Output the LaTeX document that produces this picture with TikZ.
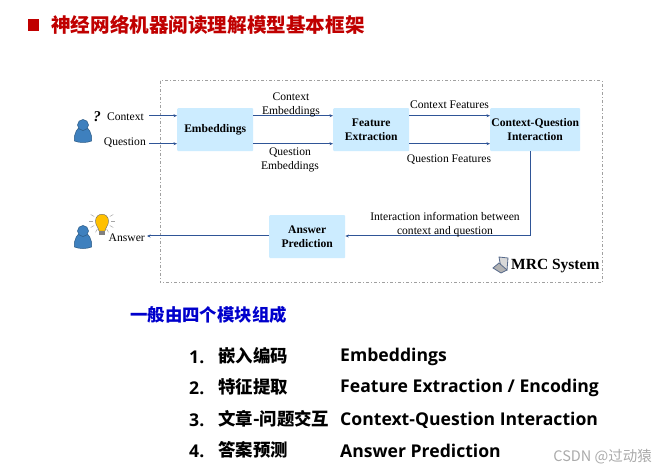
\documentclass[tikz,border=0pt]{standalone}
\usepackage{fontspec}
\setmainfont{Liberation Serif}
\newfontfamily\cjkfont{Noto Sans CJK SC}
\newfontfamily\listfont{Open Sans}
\usetikzlibrary{positioning,arrows.meta,calc}
\definecolor{boxblue}{HTML}{CCECFF}
\definecolor{flowblue}{HTML}{2F5597}
\definecolor{titlered}{HTML}{C00000}
\definecolor{headblue}{HTML}{0000CC}
\definecolor{personblue}{HTML}{3E80BE}
\definecolor{bulbyellow}{HTML}{FFC000}
\definecolor{framegray}{HTML}{A0A0A0}
\definecolor{markgray}{HTML}{ABABAB}

\begin{document}
\begin{tikzpicture}[
    x=1pt, y=-1pt,
    >={Stealth[length=3.5pt,width=3pt]},
    every node/.style={font=\fontsize{11.6}{14}\selectfont, inner sep=0pt, align=center},
    modulebox/.style={fill=boxblue, rounded corners=1pt, font=\fontsize{11.6}{14}\selectfont\bfseries, anchor=north west},
    flowarrow/.style={->, line width=1pt, flowblue},
    numlabel/.style={font=\fontsize{17.6}{20}\selectfont\listfont\bfseries, anchor=west},
    cnlabel/.style={font=\fontsize{17.4}{20}\selectfont\cjkfont\bfseries, anchor=west},
    enlabel/.style={font=\fontsize{17.6}{20}\selectfont\listfont\bfseries, anchor=west},
    person/.pic={
        \draw[personblue!70!black, fill=personblue, line width=0.5pt]
            (-8.5,16) .. controls (-9.5,8) and (-5,2.5) .. (-3,2.5) -- (3,2.5)
            .. controls (5,2.5) and (9.5,8) .. (8.5,16) .. controls (4,18) and (-4,18) .. (-8.5,16) -- cycle;
        \draw[personblue!70!black, fill=personblue, line width=0.5pt] (0,0) circle (5.5);
    },
]
\useasboundingbox (0,0) rectangle (667,473);
\fill[white] (0,0) rectangle (667,473);

% ---- Title ----
\fill[titlered] (28,19) rectangle (39,31);
\node[anchor=west, font=\fontsize{19.6}{22}\selectfont\cjkfont\bfseries, text=titlered] (title) at (51,25) {神经网络机器阅读理解模型基本框架};

% ---- MRC System frame ----
\draw[framegray, line width=1pt, dash dot] (160,81) rectangle (602,283);

% ---- Modules ----
\node[modulebox, minimum width=76pt, minimum height=43pt] (emb) at (177,108) {Embeddings};
\node[modulebox, minimum width=76pt, minimum height=43pt] (feat) at (333,108) {Feature\\Extraction};
\node[modulebox, minimum width=90pt, minimum height=43pt] (inter) at (490,108) {Context-Question\\Interaction};
\node[modulebox, minimum width=76pt, minimum height=43pt] (pred) at (269,215) {Answer\\Prediction};

% ---- Inputs and output ----
\node[anchor=east] (ctx) at (144,117) {Context};
\node[anchor=east] (qst) at (146,143) {Question};
\node[anchor=east] (ans) at (145,238) {Answer};

\draw[flowarrow] ([xshift=5pt,yshift=14pt]ctx.east |- emb.west) -- ([yshift=14pt]emb.west);
\draw[flowarrow] ([xshift=3pt,yshift=-14pt]qst.east |- emb.west) -- ([yshift=-14pt]emb.west);
\draw[flowarrow] (pred.west |- 0,236) -- ([xshift=2pt]ans.east |- 0,236);

% ---- Between modules ----
\draw[flowarrow] ([yshift=14pt]emb.east) -- ([yshift=14pt]feat.west);
\draw[flowarrow] ([yshift=-14pt]emb.east) -- ([yshift=-14pt]feat.west);
\draw[flowarrow] ([yshift=14pt]feat.east) -- ([yshift=14pt]inter.west);
\draw[flowarrow] ([yshift=-14pt]feat.east) -- ([yshift=-14pt]inter.west);
\coordinate (turn) at (530,236);
\draw[flowarrow] (inter.south -| turn) -- (turn) -- (pred.east |- turn);

\node (ctxemb) at (291,105) {Context\\Embeddings};
\node (qstemb) at (290,159.5) {Question\\Embeddings};
\node (ctxfeat) at (449.5,104.5) {Context Features};
\node (qstfeat) at (449,159.5) {Question Features};
\node (interinfo) at (445,224.5) {Interaction information between\\context and question};

% ---- People ----
\pic at (83,125) {person};
\pic at (83,231) {person};
\node[font=\fontsize{15}{15}\selectfont\bfseries\itshape] (mark) at (97,117) {?};

% Light bulb
\foreach \a in {0,30,...,180,210,330} {
    \draw[gray!70, line width=0.5pt] ($(102,221)+(\a:9)$) -- ($(102,221)+(\a:13)$);
}
\draw[black!60, fill=bulbyellow, line width=0.4pt] (99,231) .. controls (98,226) and (95.5,226) .. (95.5,221)
    .. controls (95.5,212) and (108.5,212) .. (108.5,221) .. controls (108.5,226) and (106,226) .. (105,231) -- cycle;
\fill[gray] (99,231.5) rectangle (105,235.5);

% Laptop
\draw[flowblue!50!gray, fill=gray!30, line width=0.8pt] (499,257) -- (508,258) -- (507,270) -- (501,268) -- cycle;
\draw[flowblue!50!gray, fill=gray!60, line width=0.8pt] (493,268) -- (499,263) -- (507,270) -- (501,273) -- cycle;

\node[anchor=west, font=\fontsize{15.5}{17}\selectfont\bfseries] (mrc) at (511,266) {MRC System};

% ---- Lower list ----
\node[anchor=west, font=\fontsize{17.4}{20}\selectfont\cjkfont\bfseries, text=headblue] (lead) at (130,315) {一般由四个模块组成};

\node[numlabel] (n1) at (189,357) {1.};
\node[cnlabel] (c1) at (218,356) {嵌入编码};
\node[enlabel] (e1) at (340,357) {Embeddings};

\node[numlabel] (n2) at (189,388) {2.};
\node[cnlabel] (c2) at (218,387) {特征提取};
\node[enlabel] (e2) at (340,388) {Feature Extraction / Encoding};

\node[numlabel] (n3) at (189,420) {3.};
\node[cnlabel] (c3) at (218,419) {文章-问题交互};
\node[enlabel] (e3) at (340,420) {Context-Question Interaction};

\node[numlabel] (n4) at (189,451) {4.};
\node[cnlabel] (c4) at (218,450) {答案预测};
\node[enlabel] (e4) at (340,451) {Answer Prediction};

% Watermark
\node[anchor=east, font=\fontsize{14.5}{16}\selectfont\cjkfont, text=markgray] (csdn) at (652,457) {CSDN @过动猿};

\end{tikzpicture}
\end{document}
